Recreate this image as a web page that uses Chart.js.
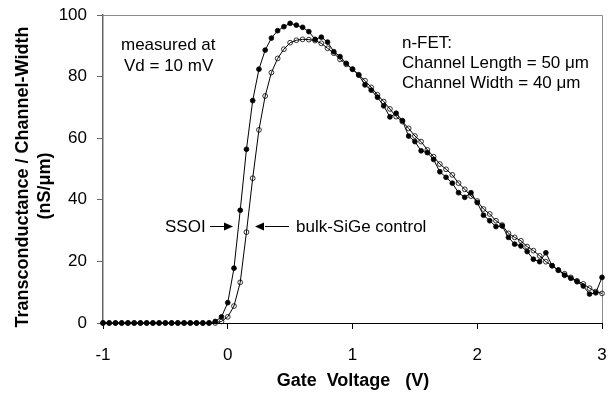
<!DOCTYPE html>
<html>
<head>
<meta charset="utf-8">
<script src="https://cdn.jsdelivr.net/npm/chart.js@4.4.0/dist/chart.umd.min.js"></script>
<style>
  html, body { margin: 0; padding: 0; background: #fff; }
  #wrap { width: 611px; height: 395px; }
</style>
</head>
<body>
<div id="wrap"><canvas id="gmChart" width="611" height="395"></canvas></div>
<script>
// gate voltage (V)
const gateVoltage = [
  -1, -0.95, -0.9, -0.85, -0.8, -0.75, -0.7, -0.65, -0.6, -0.55,
  -0.5, -0.45, -0.4, -0.35, -0.3, -0.25, -0.2, -0.15, -0.1, -0.05,
  0, 0.05, 0.1, 0.15, 0.2, 0.25, 0.3, 0.35, 0.4, 0.45,
  0.5, 0.55, 0.6, 0.65, 0.7, 0.75, 0.8, 0.85, 0.9, 0.95,
  1, 1.05, 1.1, 1.15, 1.2, 1.25, 1.3, 1.35, 1.4, 1.45,
  1.5, 1.55, 1.6, 1.65, 1.7, 1.75, 1.8, 1.85, 1.9, 1.95,
  2, 2.05, 2.1, 2.15, 2.2, 2.25, 2.3, 2.35, 2.4, 2.45,
  2.5, 2.55, 2.6, 2.65, 2.7, 2.75, 2.8, 2.85, 2.9, 2.95,
  3
];

// SSOI (filled markers), nS/um
const ssoiGm = [
  0, 0, 0, 0, 0, 0, 0, 0, 0, 0,
  0, 0, 0, 0, 0, 0, 0, 0, 0.5, 2.0,
  6.6, 17.8, 36.6, 56.4, 72.2, 82.4, 88.6, 92.5, 94.9, 96.2,
  97.3, 96.7, 96.0, 94.6, 92.1, 92.8, 91.2, 88.1, 86.5, 84.3,
  82.4, 80.5, 77.3, 75.6, 73.3, 70.5, 66.9, 68.1, 65.7, 60.7,
  58.9, 55.9, 55.3, 53.1, 49.1, 47.3, 45.4, 42.3, 40.8, 42.3,
  39.1, 35.0, 33.2, 31.3, 31.5, 27.8, 25.6, 25.0, 23.2, 20.7,
  19.9, 22.8, 18.6, 17.2, 15.5, 14.5, 13.4, 12.0, 9.4, 9.8,
  14.8
];

// bulk-SiGe control (open markers), nS/um
const bulkGm = [
  0, 0, 0, 0, 0, 0, 0, 0, 0, 0,
  0, 0, 0, 0, 0, 0, 0, 0, 0, 0.5,
  2.0, 5.5, 13.2, 29.5, 47.0, 62.7, 73.7, 81.3, 85.9, 88.9,
  91.0, 91.8, 92.1, 92.0, 91.7, 90.8, 89.2, 87.6, 85.6, 84.0,
  82.4, 80.6, 78.7, 76.5, 74.1, 71.9, 69.5, 67.0, 65.4, 63.2,
  60.7, 58.9, 56.2, 54.0, 51.6, 49.9, 48.1, 45.4, 43.4, 41.2,
  39.6, 37.0, 35.4, 33.2, 31.8, 29.1, 27.8, 26.7, 24.8, 23.5,
  21.8, 19.9, 18.6, 17.1, 16.0, 14.8, 13.7, 12.7, 11.3, 10.2,
  9.6
];

const xTicks = [-1, 0, 1, 2, 3];
const yTicks = [0, 20, 40, 60, 80, 100];

const FONT = "'Liberation Sans', Arial, sans-serif";

function toPoints(ys) {
  return gateVoltage.map((v, i) => ({ x: v, y: ys[i] }));
}

// texts, arrows, axis titles and frame
const annotationPlugin = {
  id: "annotations",
  beforeDatasetsDraw(chart) {
    const { ctx, chartArea: a } = chart;
    ctx.save();
    ctx.strokeStyle = "#8c8c8c";
    ctx.lineWidth = 1;
    ctx.beginPath();
    ctx.moveTo(a.left, a.top + 0.5);
    ctx.lineTo(a.right + 0.5, a.top + 0.5);
    ctx.lineTo(a.right + 0.5, a.bottom);
    ctx.stroke();
    ctx.restore();
  },
  afterDraw(chart) {
    const ctx = chart.ctx;
    ctx.save();
    ctx.fillStyle = "#000";
    ctx.strokeStyle = "#000";
    ctx.textBaseline = "alphabetic";
    ctx.textAlign = "left";
    ctx.font = "17px " + FONT;
    ctx.fillText("measured at", 121, 49.5);
    ctx.fillText("Vd = 10 mV", 124, 71);
    ctx.fillText("n-FET:", 402, 47.5);
    ctx.fillText("Channel Length = 50 \u03bcm", 402, 67.5);
    ctx.fillText("Channel Width = 40 \u03bcm", 402, 88);
    ctx.fillText("SSOI", 165, 231.5);
    ctx.fillText("bulk-SiGe control", 296, 231.5);

    // arrows
    ctx.lineWidth = 1;
    ctx.beginPath();
    ctx.moveTo(210, 226.5);
    ctx.lineTo(225, 226.5);
    ctx.moveTo(265, 226.5);
    ctx.lineTo(289, 226.5);
    ctx.stroke();
    ctx.beginPath();
    ctx.moveTo(233, 226.5);
    ctx.lineTo(224, 222.5);
    ctx.lineTo(224, 230.5);
    ctx.closePath();
    ctx.moveTo(255, 226.5);
    ctx.lineTo(264, 222.5);
    ctx.lineTo(264, 230.5);
    ctx.closePath();
    ctx.fill();

    // axis titles
    ctx.font = "bold 18px " + FONT;
    ctx.textAlign = "center";
    ctx.textBaseline = "middle";
    ctx.fillText("Gate  Voltage   (V)", 353, 381);
    ctx.translate(23.5, 177);
    ctx.rotate(-Math.PI / 2);
    ctx.fillText("Transconductance / Channel-Width", 0, 0);
    ctx.fillText("(nS/\u03bcm)", -9, 22);
    ctx.restore();
  }
};

const ctx1 = document.getElementById("gmChart").getContext("2d");
const gmChart = new Chart(ctx1, {
  type: "scatter",
  data: {
    datasets: [
      {
        label: "SSOI",
        data: toPoints(ssoiGm),
        showLine: true,
        borderColor: "#000",
        backgroundColor: "#000",
        borderWidth: 1,
        pointRadius: 2.4,
        pointBorderWidth: 0.8,
        pointBackgroundColor: "#000",
        pointBorderColor: "#000",
        tension: 0,
        clip: false,
      },
      {
        label: "bulk-SiGe control",
        data: toPoints(bulkGm),
        showLine: true,
        borderColor: "#000",
        backgroundColor: "rgba(0,0,0,0)",
        borderWidth: 1,
        pointRadius: 2.4,
        pointBorderWidth: 0.8,
        pointBackgroundColor: "rgba(0,0,0,0)",
        pointBorderColor: "#000",
        tension: 0,
        clip: false,
      },
    ],
  },
  options: {
    responsive: false,
    animation: false,
    devicePixelRatio: 1,
    layout: { padding: { top: 15, right: 9, left: 0, bottom: 0 } },
    plugins: {
      legend: { display: false },
      tooltip: { enabled: false },
    },
    scales: {
      x: {
        type: "linear",
        min: -1,
        max: 3,
        afterBuildTicks: (s) => { s.ticks = xTicks.map((v) => ({ value: v })); },
        afterFit: (s) => { s.height = 72; s.paddingLeft = 0; s.paddingRight = 0; },
        grid: { drawOnChartArea: false, drawTicks: true, tickLength: 6, color: "#000" },
        border: { display: true, color: "#000", width: 1 },
        ticks: { color: "#000", padding: 16, font: { family: FONT, size: 17 } },
      },
      y: {
        type: "linear",
        min: 0,
        max: 100,
        afterBuildTicks: (s) => { s.ticks = yTicks.map((v) => ({ value: v })); },
        afterFit: (s) => { s.width = 103; s.paddingTop = 0; s.paddingBottom = 0; },
        grid: { drawOnChartArea: false, drawTicks: true, tickLength: 6, color: "#666" },
        border: { display: true, color: "#666", width: 1.5 },
        ticks: { color: "#000", padding: 10, font: { family: FONT, size: 17 } },
      },
    },
  },
  plugins: [annotationPlugin],
});
</script>
</body>
</html>
